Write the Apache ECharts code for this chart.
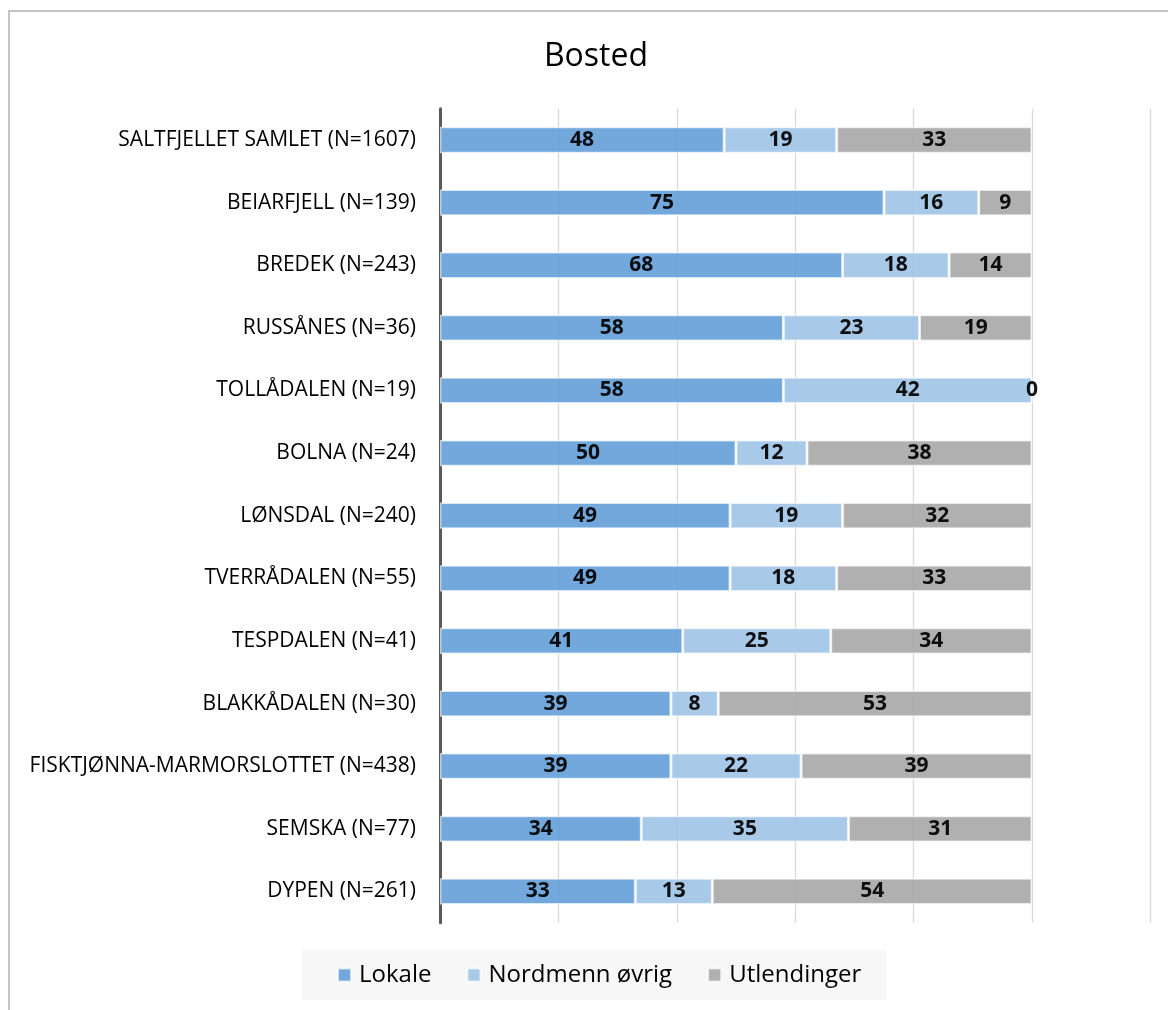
<!DOCTYPE html>
<html>
<head>
<meta charset="utf-8">
<script src="https://cdn.jsdelivr.net/npm/echarts@6/dist/echarts.min.js"></script>
<style>
html,body{margin:0;padding:0;background:#fff;}
#frame{position:absolute;left:8px;top:10px;width:1170px;height:1010px;border-top:2px solid #c4c4c4;border-left:2px solid #c4c4c4;box-sizing:border-box;}
#chart{position:absolute;left:0;top:0;width:1168px;height:1010px;}
</style>
</head>
<body>
<div id="frame"></div>
<div id="chart"></div>
<script>
const titleText = 'Bosted';
const categories = [
  'SALTFJELLET SAMLET (N=1607)',
  'BEIARFJELL (N=139)',
  'BREDEK (N=243)',
  'RUSSÅNES (N=36)',
  'TOLLÅDALEN (N=19)',
  'BOLNA (N=24)',
  'LØNSDAL (N=240)',
  'TVERRÅDALEN (N=55)',
  'TESPDALEN (N=41)',
  'BLAKKÅDALEN (N=30)',
  'FISKTJØNNA-MARMORSLOTTET (N=438)',
  'SEMSKA (N=77)',
  'DYPEN (N=261)'
];
const seriesNames = ['Lokale', 'Nordmenn øvrig', 'Utlendinger'];
const lokale      = [48, 75, 68, 58, 58, 50, 49, 49, 41, 39, 39, 34, 33];
const nordmenn    = [19, 16, 18, 23, 42, 12, 19, 18, 25, 8, 22, 35, 13];
const utlendinger = [33, 9, 14, 19, 0, 38, 32, 33, 34, 53, 39, 31, 54];
const seriesData = [lokale, nordmenn, utlendinger];
const colors = ['#66a1d8', '#a1c5e6', '#a9a9a9'];

const chart = echarts.init(document.getElementById('chart'), null, {renderer: 'canvas'});
const font = '"Open Sans", Lato, sans-serif';
chart.setOption({
  animation: false,
  backgroundColor: 'transparent',
  textStyle: {fontFamily: font},
  title: {
    text: titleText,
    left: 591,
    textAlign: 'center',
    top: 36,
    textStyle: {fontFamily: font, fontSize: 32, fontWeight: 'normal', color: '#000'}
  },
  legend: {
    data: seriesNames,
    left: 302,
    top: 950,
    padding: [13, 25, 13, 35],
    backgroundColor: '#f7f7f7',
    itemWidth: 13,
    itemHeight: 13,
    itemGap: 35,
    icon: 'rect',
    textStyle: {fontFamily: font, fontSize: 24, color: '#000', padding: [0, 0, 0, 3]}
  },
  grid: {left: 440, top: 108.7, width: 710.4, height: 814, containLabel: false},
  xAxis: {
    type: 'value',
    min: 0,
    max: 120,
    interval: 20,
    axisLabel: {show: false},
    axisLine: {show: false},
    axisTick: {show: false},
    splitLine: {show: true, lineStyle: {color: '#d9d9d9', width: 1.3}}
  },
  yAxis: {
    type: 'category',
    data: categories,
    inverse: true,
    axisLine: {show: true, lineStyle: {color: '#595959', width: 3}},
    axisTick: {show: false},
    axisLabel: {fontFamily: font, fontSize: 21, color: '#000', margin: 24}
  },
  series: seriesNames.map((name, i) => ({
    name: name,
    type: 'bar',
    stack: 'total',
    data: seriesData[i],
    barCategoryGap: '58%',
    itemStyle: {color: colors[i], opacity: 0.92, borderColor: 'rgba(255,255,255,0.7)', borderWidth: 1.5},
    label: {
      show: true,
      position: 'inside',
      fontFamily: font,
      fontSize: 21,
      fontWeight: 'bold',
      color: '#000',
      textBorderWidth: 0
    }
  }))
});
</script>
</body>
</html>
